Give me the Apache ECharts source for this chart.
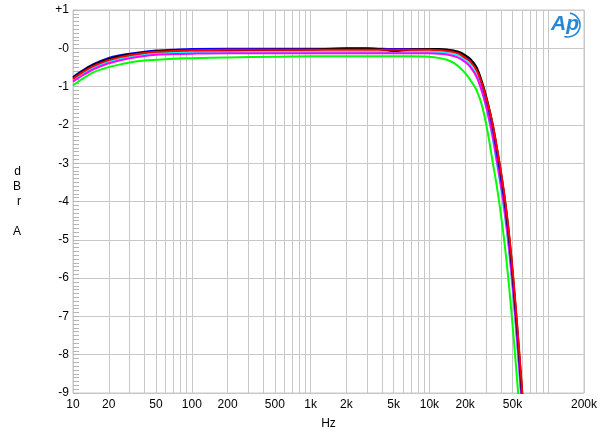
<!DOCTYPE html>
<html>
<head>
<meta charset="utf-8">
<script src="https://cdn.jsdelivr.net/npm/echarts@6/dist/echarts.min.js"></script>
<style>
  html, body { margin: 0; padding: 0; background: #fff; }
  #chart { width: 600px; height: 436px; }
</style>
</head>
<body>
<div id="chart"></div>
<script>
// frequency points (Hz) shared by all traces
const freqs = [10, 12, 15, 20, 25, 30, 40, 50, 70, 100, 200, 500, 1000, 2000, 3000, 4000, 5000, 6000, 7000,
  10000, 12000, 14000, 16000, 18000, 20000, 22000, 25000, 28000, 31000, 34000, 37000, 40000,
  43000, 46000, 49000, 52000, 55000, 58000, 61000, 64000]

// dBr, one array per trace
const greenDb = [-0.97, -0.8, -0.62, -0.49, -0.42, -0.37, -0.32, -0.3, -0.27, -0.26, -0.24, -0.22, -0.21, -0.21, -0.21, -0.21, -0.21, -0.21, -0.21,
  -0.22, -0.25, -0.3, -0.38, -0.5, -0.65, -0.82, -1.1, -1.55, -2.2, -2.95, -3.62, -4.35,
  -5.12, -5.97, -6.88, -7.82, -8.75, -9.68, -10.6, -11.5]
const magentaDb = [-0.87, -0.71, -0.54, -0.39, -0.31, -0.26, -0.2, -0.17, -0.15, -0.14, -0.13, -0.13, -0.13, -0.13, -0.13, -0.13, -0.13, -0.13, -0.13,
  -0.13, -0.14, -0.16, -0.2, -0.26, -0.36, -0.48, -0.75, -1.18, -1.7, -2.28, -2.95, -3.58,
  -4.25, -5.0, -5.85, -6.76, -7.7, -8.65, -9.58, -10.5]
const cyanDb = [-0.83, -0.67, -0.5, -0.35, -0.27, -0.22, -0.16, -0.13, -0.11, -0.1, -0.09, -0.09, -0.09, -0.09, -0.09, -0.09, -0.09, -0.09, -0.09,
  -0.09, -0.1, -0.12, -0.15, -0.2, -0.3, -0.42, -0.7, -1.15, -1.72, -2.33, -3.0, -3.65,
  -4.33, -5.08, -5.93, -6.85, -7.8, -8.75, -9.68, -10.6]
const blueDb = [-0.75, -0.58, -0.41, -0.25, -0.18, -0.14, -0.09, -0.06, -0.04, -0.02, -0.01, -0.01, -0.01, -0.01, -0.01, -0.01, -0.02, -0.02, -0.02,
  -0.02, -0.03, -0.05, -0.08, -0.12, -0.2, -0.3, -0.55, -0.98, -1.5, -2.05, -2.72, -3.36,
  -4.03, -4.78, -5.62, -6.53, -7.47, -8.42, -9.35, -10.3]
const blackDb = [-0.77, -0.6, -0.43, -0.28, -0.2, -0.16, -0.11, -0.08, -0.06, -0.05, -0.05, -0.04, -0.03, 0.0, 0.0, -0.03, -0.07, -0.05, -0.03,
  -0.02, -0.02, -0.03, -0.06, -0.1, -0.18, -0.27, -0.5, -0.92, -1.42, -1.97, -2.6, -3.25,
  -3.92, -4.67, -5.5, -6.42, -7.35, -8.3, -9.22, -10.15]
const redDb = [-0.8, -0.63, -0.46, -0.31, -0.23, -0.18, -0.12, -0.09, -0.07, -0.05, -0.04, -0.04, -0.04, -0.04, -0.04, -0.04, -0.04, -0.04, -0.04,
  -0.04, -0.05, -0.07, -0.1, -0.15, -0.25, -0.34, -0.58, -0.97, -1.45, -1.97, -2.6, -3.22,
  -3.88, -4.62, -5.45, -6.35, -7.28, -8.22, -9.15, -10.1]

// x tick labels (100k is not labelled in the original)
const xLabelFreqs = [10, 20, 50, 100, 200, 500, 1000, 2000, 5000, 10000, 20000, 50000, 200000]
const xLabelTexts = ['10', '20', '50', '100', '200', '500', '1k', '2k', '5k', '10k', '20k', '50k', '200k']

// vertical grid lines at 1..9 x each decade
const gridFreqs = []
for (let d = 10; d <= 100000; d *= 10) {
  for (let m = 1; m <= 9; m++) gridFreqs.push(d * m)
}
gridFreqs.push(200000)

const pairs = (ys) => freqs.map((f, i) => [f, ys[i]])

// drawing order: red ends up on top like in the original
const traces = [
  {name: 'green', color: '#00ff00', data: greenDb},
  {name: 'cyan', color: '#00ffff', data: cyanDb},
  {name: 'magenta', color: '#ff00ff', data: magentaDb},
  {name: 'blue', color: '#0000ff', data: blueDb},
  {name: 'black', color: '#000000', data: blackDb},
  {name: 'red', color: '#ff0000', data: redDb}
]

const chart = echarts.init(document.getElementById('chart'), null, {renderer: 'canvas'})

const gridGray = '#c8c8c8'
const logoBlue = '#2488d6'

const option = {
  animation: false,
  textStyle: {fontFamily: 'Liberation Sans, Arial, sans-serif'},
  grid: {left: 73, right: 12, top: 10, bottom: 43, show: true, borderColor: gridGray, borderWidth: 1},
  xAxis: {
    type: 'log',
    logBase: 10,
    min: 10,
    max: 200000,
    name: 'Hz',
    nameLocation: 'middle',
    nameGap: 25,
    nameTextStyle: {color: '#000', fontSize: 12},
    axisLine: {show: false},
    axisTick: {show: false, customValues: gridFreqs},
    splitLine: {show: true, lineStyle: {color: gridGray, width: 1}},
    axisLabel: {
      customValues: xLabelFreqs,
      color: '#000',
      fontSize: 12,
      margin: 6,
      formatter: (v) => {
        const i = xLabelFreqs.findIndex(f => Math.abs(f - v) / f < 1e-6)
        return i >= 0 ? xLabelTexts[i] : ''
      }
    }
  },
  yAxis: {
    type: 'value',
    min: -9,
    max: 1,
    interval: 1,
    name: 'd\nB\nr\n\nA',
    nameLocation: 'middle',
    nameRotate: 0,
    nameGap: 52,
    nameTextStyle: {color: '#000', fontSize: 12, lineHeight: 15},
    axisLine: {show: true, lineStyle: {color: gridGray}},
    axisTick: {show: true, inside: true, length: 6, lineStyle: {color: '#b4b4b4'}},
    minorTick: {show: true, splitNumber: 10, length: 6, lineStyle: {color: '#b4b4b4', width: 1}},
    axisLabel: {
      color: '#000',
      fontSize: 12,
      margin: 4,
      formatter: (v) => v > 0 ? '+' + v : (v === 0 ? '-0' : String(v))
    },
    splitLine: {show: true, lineStyle: {color: gridGray, width: 1}}
  },
  graphic: [
    {type: 'text', x: 551, y: 14, style: {text: 'Ap', fill: logoBlue, fontSize: 21, fontStyle: 'italic', fontWeight: 'bold', fontFamily: 'Liberation Sans'}},
    {type: 'arc', shape: {cx: 568, cy: 25, r: 12, startAngle: -Math.PI * 0.45, endAngle: Math.PI * 0.6}, style: {stroke: logoBlue, lineWidth: 1.6, fill: null}}
  ],
  series: traces.map(t => ({
    name: t.name,
    type: 'line',
    data: pairs(t.data),
    showSymbol: false,
    smooth: 0.3,
    clip: true,
    lineStyle: {color: t.color, width: 2},
    itemStyle: {color: t.color}
  }))
}

chart.setOption(option)
</script>
</body>
</html>
